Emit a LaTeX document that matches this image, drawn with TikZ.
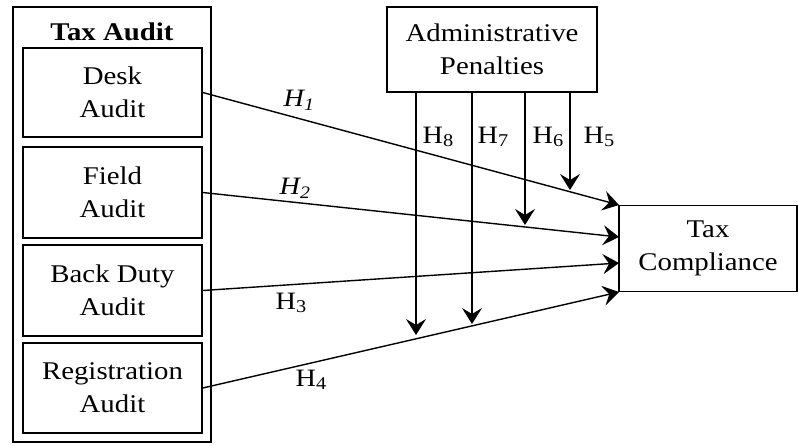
\documentclass[tikz,border=0pt]{standalone}
\usepackage{fontspec}
\setmainfont{Liberation Serif}[FakeStretch=1.13]
\usetikzlibrary{arrows.meta}
\tikzset{
  box/.style={draw, line width=1.4pt, inner sep=0pt, align=center, font=\fontsize{25.5}{33}\selectfont},
  frame/.style={draw, line width=1.6pt},
  link/.style={line width=1.4pt, -{Stealth[length=16pt,width=20pt,inset=6pt]}},
  hlab/.style={font=\fontsize{25}{28}\selectfont, inner sep=0pt},
  ilab/.style={font=\fontsize{25}{30}\selectfont\itshape, inner sep=0pt}
}
\newcommand{\hsub}[1]{H\raisebox{-0.3ex}{\fontsize{18}{20}\selectfont #1}}
\newcommand{\hisub}[1]{H\textsubscript{#1}}
\begin{document}
\begin{tikzpicture}[x=1pt,y=-1pt]
\useasboundingbox (0,0) rectangle (798,445);
% outer frame
\draw[frame] (13,7) rectangle (211,442);
\node[font=\fontsize{25.5}{30}\selectfont\bfseries, inner sep=0pt] (title) at (112,32) {Tax Audit};
% audit boxes
\node[box, minimum width=179pt, minimum height=89pt] (desk) at (112.5,92.5) {Desk\\Audit};
\node[box, minimum width=179pt, minimum height=91pt] (field) at (112.5,192.5) {Field\\Audit};
\node[box, minimum width=179pt, minimum height=91pt] (back) at (112.5,290.5) {Back Duty\\Audit};
\node[box, minimum width=179pt, minimum height=90pt] (reg) at (112.5,388) {Registration\\Audit};
% admin penalties
\node[box, minimum width=210pt, minimum height=85pt] (adm) at (492,49.5) {Administrative\\Penalties};
% tax compliance
\node[box, minimum width=178pt, minimum height=86pt] (tc) at (708,248.5) {Tax\\Compliance};
% target coordinates on tax compliance
\coordinate (t1) at (619,205);
\coordinate (t2) at (619,237);
\coordinate (t3) at (619,263);
\coordinate (t4) at (619,292);
% main arrows
\draw[link] (desk.east) -- (t1);
\draw[link] (field.east) -- (t2);
\draw[link] (back.east) -- (t3);
\draw[link] (reg.east) -- (t4);
% moderator endpoints
\coordinate (m5) at (570,190);
\coordinate (m6) at (525,225);
\coordinate (m7) at (472,324);
\coordinate (m8) at (416,335);
\draw[link] (adm.south -| m5) -- (m5);
\draw[link] (adm.south -| m6) -- (m6);
\draw[link] (adm.south -| m7) -- (m7);
\draw[link] (adm.south -| m8) -- (m8);
% labels
\node[ilab] (h1) at (299,100) {\hisub{1}};
\node[ilab] (h2) at (295,188) {\hisub{2}};
\node[hlab] (h3) at (291,303) {\hsub{3}};
\node[hlab] (h4) at (311,380) {\hsub{4}};
\node[hlab] (h8) at (438,137) {\hsub{8}};
\node[hlab] (h7) at (493,137) {\hsub{7}};
\node[hlab] (h6) at (548,137) {\hsub{6}};
\node[hlab] (h5) at (599,137) {\hsub{5}};
\end{tikzpicture}
\end{document}
